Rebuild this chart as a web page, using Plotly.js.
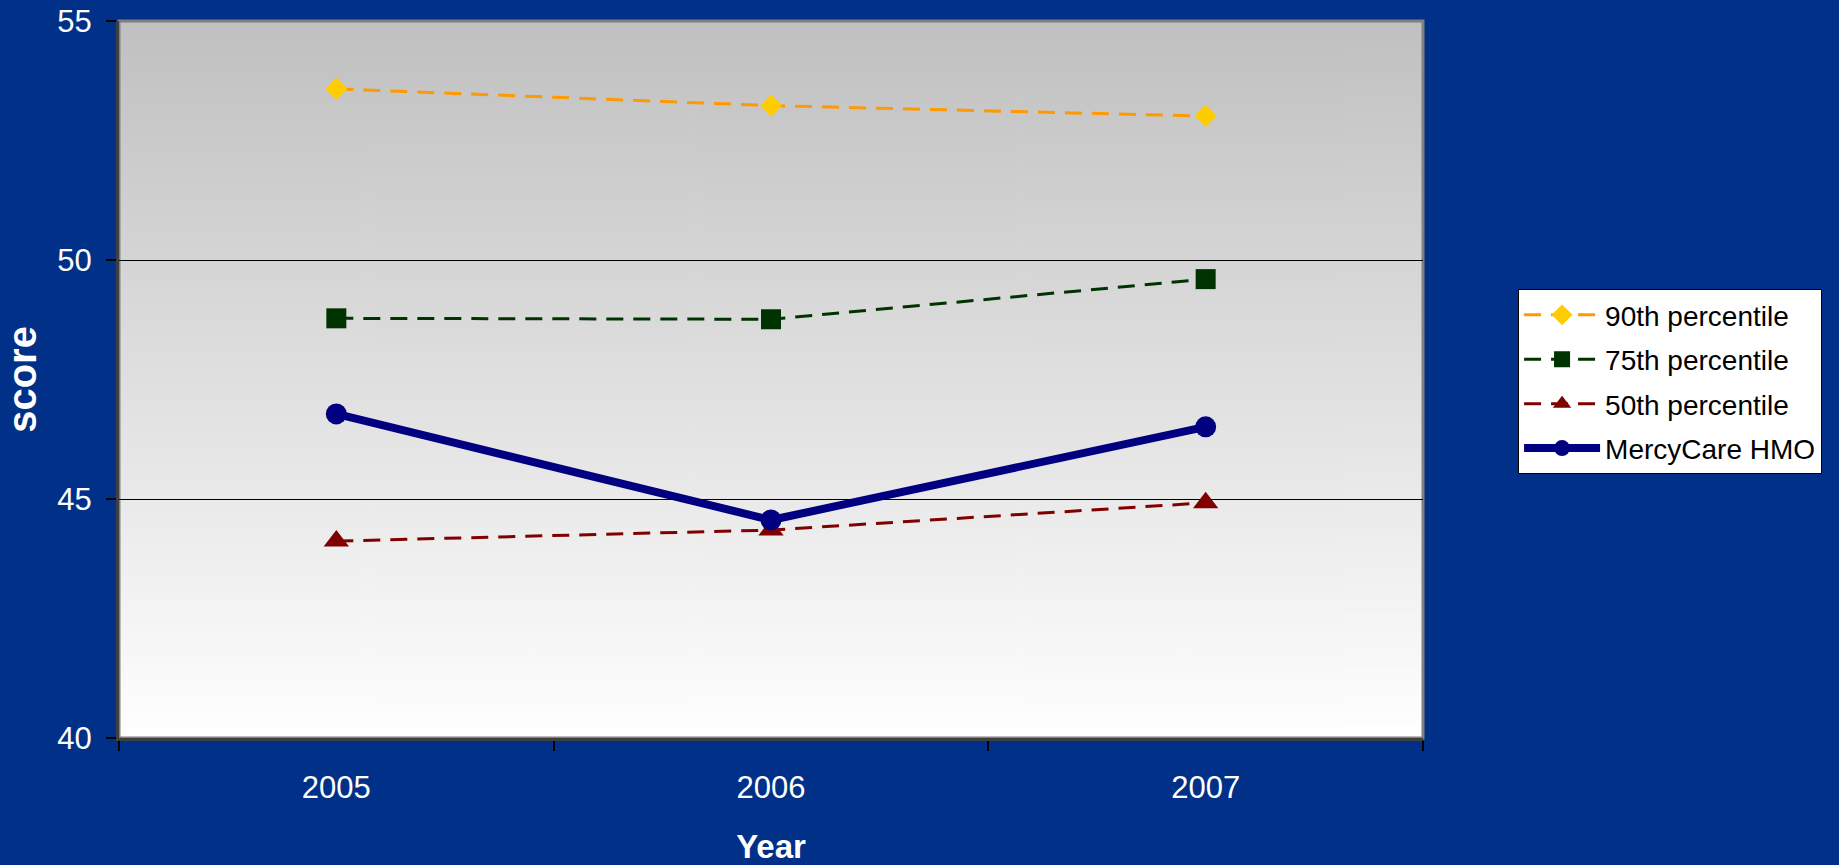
<!DOCTYPE html>
<html>
<head>
<meta charset="utf-8">
<script src="https://cdn.plot.ly/plotly-3.0.1.min.js"></script>
<style>
  html, body { margin: 0; padding: 0; background: #003087; }
  #chart { width: 1839px; height: 865px; }
</style>
</head>
<body>
<div id="chart"></div>
<script>
// ---- data ----
const years = ['2005', '2006', '2007'];
const p90 = [53.58, 53.23, 53.01];
const p75 = [48.78, 48.76, 49.60];
const p50 = [44.12, 44.35, 44.92];
const mercyCare = [46.78, 44.56, 46.51];
const seriesNames = ['90th percentile', '75th percentile', '50th percentile', 'MercyCare HMO'];
const yTicks = [40, 45, 50, 55];

// ---- gradient background for plot area ----
function gradientURI() {
  const c = document.createElement('canvas');
  c.width = 8; c.height = 512;
  const ctx = c.getContext('2d');
  const g = ctx.createLinearGradient(0, 0, 0, 512);
  g.addColorStop(0, '#c0c0c0');
  g.addColorStop(1, '#ffffff');
  ctx.fillStyle = g;
  ctx.fillRect(0, 0, 8, 512);
  return c.toDataURL('image/png');
}

const FONT = '"Liberation Sans", Arial, sans-serif';

const traces = [
  {
    x: years, y: p90, name: seriesNames[0], legendgroup: 'g1', type: 'scatter', mode: 'lines+markers',
    line: { color: '#ff9900', width: 3, dash: '17px,10px' },
    marker: { symbol: 'diamond', size: 17, color: '#ffcc00' }
  },
  {
    x: years, y: p75, name: seriesNames[1], legendgroup: 'g2', type: 'scatter', mode: 'lines+markers',
    line: { color: '#003300', width: 3, dash: '17px,10px' },
    marker: { symbol: 'square', size: 20, color: '#003300' }
  },
  {
    x: years, y: p50, name: seriesNames[2], legendgroup: 'g3', type: 'scatter', mode: 'lines+markers',
    line: { color: '#800000', width: 3, dash: '17px,10px' },
    marker: { symbol: 'triangle-up', size: 22, color: '#800000' }
  },
  {
    x: years, y: mercyCare, name: seriesNames[3], legendgroup: 'g4', type: 'scatter', mode: 'lines+markers',
    line: { color: '#000080', width: 8 },
    marker: { symbol: 'circle', size: 21, color: '#000080' }
  }
];

const layout = {
  width: 1839, height: 865,
  margin: { l: 119, r: 416, t: 21, b: 127 },
  paper_bgcolor: '#003087',
  plot_bgcolor: 'rgba(0,0,0,0)',
  font: { family: FONT, color: '#ffffff', size: 31 },
  showlegend: true,
  xaxis: {
    type: 'category',
    range: [-0.5, 2.5],
    tickson: 'boundaries',
    ticks: 'outside', ticklen: 10, tickcolor: '#000000', tickwidth: 2,
    ticklabelstandoff: 20,
    showline: true, linecolor: '#404040', linewidth: 3,
    showgrid: false, zeroline: false,
    tickfont: { family: FONT, size: 31, color: '#ffffff' },
    title: { text: '<b>Year</b>', font: { family: FONT, size: 33, color: '#ffffff' }, standoff: 31 }
  },
  yaxis: {
    range: [40, 55],
    tickvals: yTicks,
    ticks: 'outside', ticklen: 10, tickcolor: '#000000', tickwidth: 2,
    ticklabelstandoff: 8,
    showline: true, linecolor: '#404040', linewidth: 3,
    showgrid: true, gridcolor: '#000000', gridwidth: 1,
    zeroline: false,
    tickfont: { family: FONT, size: 31, color: '#ffffff' },
    title: { text: '<b>score</b>', font: { family: FONT, size: 40, color: '#ffffff' }, standoff: 10 }
  },
  legend: {
    x: 1.0729, y: 0.626, xanchor: 'left', yanchor: 'top',
    bgcolor: '#ffffff', bordercolor: '#000000', borderwidth: 1,
    font: { family: FONT, size: 28, color: '#000000' },
    traceorder: 'grouped', tracegroupgap: 5,
    itemwidth: 76
  },
  images: [{
    source: gradientURI(),
    xref: 'paper', yref: 'paper', x: 0, y: 1, sizex: 1, sizey: 1,
    xanchor: 'left', yanchor: 'top', sizing: 'stretch', layer: 'below'
  }],
  shapes: [{
    type: 'rect', xref: 'paper', yref: 'paper', x0: 0, x1: 1, y0: 0, y1: 1,
    line: { color: '#808080', width: 3 }, layer: 'below'
  }]
};

Plotly.newPlot('chart', traces, layout, { displayModeBar: false, staticPlot: true });
</script>
</body>
</html>
